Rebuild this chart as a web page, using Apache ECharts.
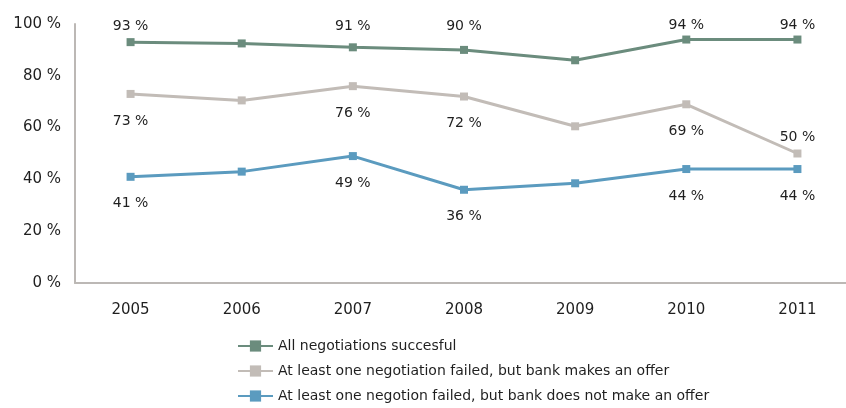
<!DOCTYPE html>
<html>
<head>
<meta charset="utf-8">
<script src="https://cdn.jsdelivr.net/npm/echarts@6/dist/echarts.min.js"></script>
<style>
  html, body { margin: 0; padding: 0; background: #fff; overflow: hidden; }
  /* the plot area runs slightly past the right edge of the page */
  #chart { width: 853px; height: 408px; }
</style>
</head>
<body>
<div id="chart"></div>
<script>
// Survey years
const years = ['2005', '2006', '2007', '2008', '2009', '2010', '2011'];

// Share of outcomes (%)
const allSuccessful = [93, 92.5, 91, 90, 86, 94, 94];
const failedWithOffer = [73, 70.5, 76, 72, 60.5, 69, 50];
const failedNoOffer = [41, 43, 49, 36, 38.5, 44, 44];

// Which points carry a value label, and where
const labelsSuccessful = ['top', null, 'top', 'top', null, 'top', 'top'];
const labelsWithOffer = ['bottom', null, 'bottom', 'bottom', null, 'bottom', 'top'];
const labelsNoOffer = ['bottom', null, 'bottom', 'bottom', null, 'bottom', 'bottom'];

const seriesNames = [
  'All negotiations succesful',
  'At least one negotiation failed, but bank makes an offer',
  'At least one negotion failed, but bank does not make an offer'
];

const FONT = '"DejaVu Sans", Verdana, sans-serif';
const TEXT = '#1f1f1f';

// Labels above the top series sit on one row under the plot's upper edge
function labelDistance(pos, v, pinTop) {
  if (pos === 'bottom') return 16;
  if (pinTop) return Math.max(3, 5 + (93 - v) * 2.6);
  return 5;
}

function buildData(values, positions, pinTop) {
  return values.map((v, i) => {
    const pos = positions[i];
    if (!pos) return { value: v, label: { show: false } };
    return {
      value: v,
      label: { show: true, position: pos, distance: labelDistance(pos, v, pinTop) }
    };
  });
}

function makeSeries(name, values, positions, color, pinTop) {
  return {
    name: name,
    type: 'line',
    data: buildData(values, positions, pinTop),
    symbol: 'rect',
    symbolSize: 8,
    lineStyle: { width: 3, color: color },
    itemStyle: { color: color },
    label: {
      formatter: (p) => Math.round(p.value) + ' %',
      color: TEXT,
      fontFamily: FONT,
      fontSize: 14
    },
    emphasis: { disabled: true },
    animation: false
  };
}

const chart = echarts.init(document.getElementById('chart'), null, { renderer: 'canvas' });
chart.setOption({
  backgroundColor: '#ffffff',
  grid: { left: 75, right: 0, top: 24, bottom: 125 },
  legend: {
    orient: 'vertical',
    left: 237,
    top: 339,
    height: 100,
    padding: 0,
    itemWidth: 35,
    itemHeight: 14,
    itemGap: 11,
    textStyle: { color: TEXT, fontFamily: FONT, fontSize: 14 },
    data: seriesNames
  },
  xAxis: {
    type: 'category',
    data: years,
    boundaryGap: true,
    axisLine: { lineStyle: { color: '#bcb8b5', width: 2 } },
    axisTick: { show: false },
    axisLabel: { color: TEXT, fontFamily: FONT, fontSize: 15, margin: 20 }
  },
  yAxis: {
    type: 'value',
    min: 0,
    max: 100,
    interval: 20,
    axisLine: { show: true, lineStyle: { color: '#bcb8b5', width: 2 } },
    axisTick: { show: false },
    splitLine: { show: false },
    axisLabel: {
      color: TEXT, fontFamily: FONT, fontSize: 15, margin: 14,
      formatter: (v) => v + ' %'
    }
  },
  series: [
    makeSeries(seriesNames[0], allSuccessful, labelsSuccessful, '#6b8c7d', true),
    makeSeries(seriesNames[1], failedWithOffer, labelsWithOffer, '#c2bcb7', false),
    makeSeries(seriesNames[2], failedNoOffer, labelsNoOffer, '#5b9bbf', false)
  ]
});
</script>
</body>
</html>
